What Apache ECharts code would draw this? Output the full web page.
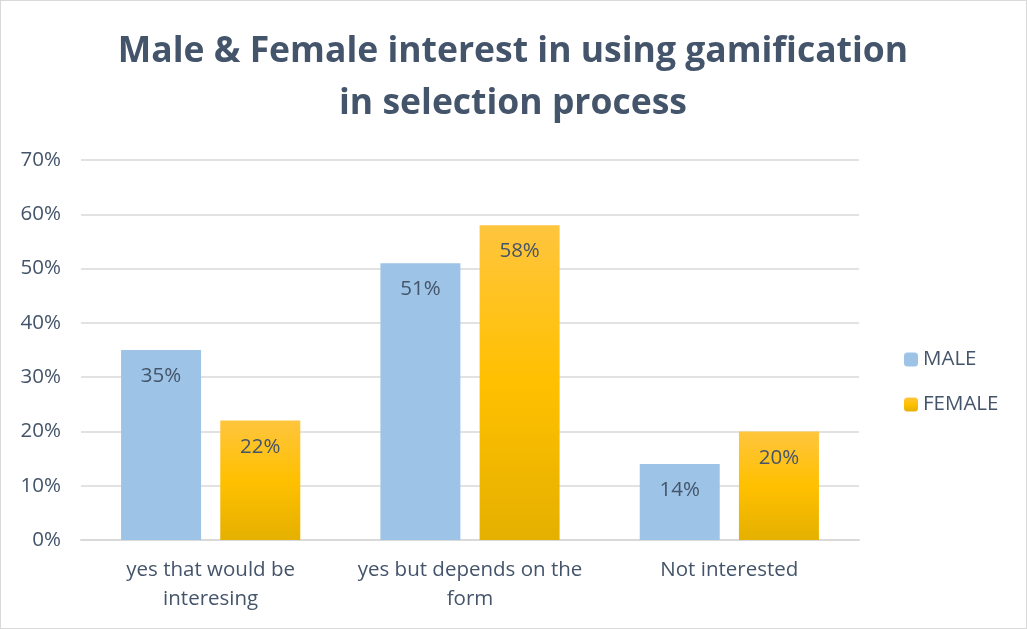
<!DOCTYPE html>
<html><head><meta charset="utf-8">
<script src="https://cdn.jsdelivr.net/npm/echarts@6/dist/echarts.min.js"></script>
<style>html,body{margin:0;padding:0;background:#fff}#c{width:1025px;height:627px;border:1px solid #d9d9d9}</style>
</head><body><div id="c"></div>
<script>
const categories = ['yes that would be\ninteresing', 'yes but depends on the\nform', 'Not interested'];
const male = [35, 51, 14];
const female = [22, 58, 20];
const yTicks = [0, 10, 20, 30, 40, 50, 60, 70];
const textColor = '#44546A';
const chart = echarts.init(document.getElementById('c'));
chart.setOption({
  animation: false,
  title: {
    text: 'Male & Female interest in using gamification\nin selection process',
    left: 507, top: 20, textAlign: 'center',
    textStyle: {fontFamily: 'Open Sans', fontSize: 35.5, fontWeight: 'bold', color: textColor, lineHeight: 52}
  },
  legend: {
    orient: 'vertical', left: 898, top: 343, itemGap: 24, itemWidth: 14, itemHeight: 14,
    textStyle: {fontFamily: 'Open Sans', fontSize: 20.5, color: textColor},
    data: ['MALE', 'FEMALE']
  },
  grid: {left: 80, right: 167, top: 159, bottom: 88},
  xAxis: {
    type: 'category', data: categories,
    axisTick: {show: false},
    axisLine: {lineStyle: {color: '#d9d9d9', width: 2}},
    axisLabel: {interval: 0, hideOverlap: false, fontFamily: 'Open Sans', fontSize: 20.5, color: textColor, lineHeight: 29, margin: 16}
  },
  yAxis: {
    type: 'value', min: yTicks[0], max: yTicks[yTicks.length - 1], interval: 10,
    axisLabel: {fontFamily: 'Open Sans', fontSize: 20.5, color: textColor, formatter: '{value}%', margin: 20},
    splitLine: {lineStyle: {color: '#d9d9d9', width: 1.5}},
    axisLine: {show: false}, axisTick: {show: false}
  },
  series: [
    {name: 'MALE', type: 'bar', data: male, barWidth: 80, barGap: '24%',
     itemStyle: {color: '#9DC3E6'},
     label: {show: true, position: 'insideTop', distance: 16, formatter: '{c}%', fontFamily: 'Open Sans', fontSize: 20.5, color: textColor}},
    {name: 'FEMALE', type: 'bar', data: female, barWidth: 80,
     itemStyle: {color: new echarts.graphic.LinearGradient(0, 0, 0, 1, [
       {offset: 0, color: '#FFC53D'}, {offset: 0.5, color: '#FFC000'}, {offset: 1, color: '#E5B000'}])},
     label: {show: true, position: 'insideTop', distance: 16, formatter: '{c}%', fontFamily: 'Open Sans', fontSize: 20.5, color: textColor}}
  ]
});
</script></body></html>
